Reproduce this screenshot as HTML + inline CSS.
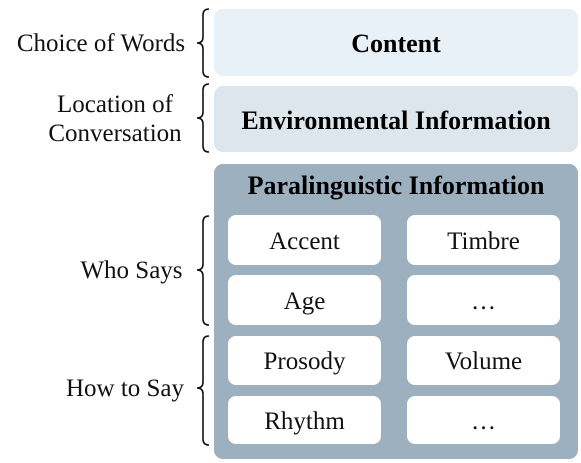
<!DOCTYPE html>
<html><head><style>
body{margin:0;width:581px;height:463px;background:#fff;font-family:"Liberation Serif",serif;position:relative;overflow:hidden}
.b{position:absolute;border-radius:9px}
.t{position:absolute;display:flex;align-items:center;justify-content:center;text-align:center}
.w{position:absolute;background:#fff;border-radius:8px;display:flex;align-items:center;justify-content:center;font-size:25px;color:#111;width:153px;padding-top:3px;box-sizing:border-box}
.l{position:absolute;font-size:25px;color:#111;text-align:center;line-height:29px;white-space:nowrap}
</style></head><body>
<div class="b t" style="left:214px;top:9px;width:364px;height:67px;background:#e8f0f8;font-weight:bold;font-size:26px;padding-top:3px;box-sizing:border-box">Content</div>
<div class="b t" style="left:214px;top:86px;width:364px;height:66px;background:#dee6ed;font-weight:bold;font-size:26px;padding-top:4px;box-sizing:border-box">Environmental Information</div>
<div class="b" style="left:214px;top:164px;width:364px;height:295px;background:#9db0bf"></div>
<div class="t" style="left:214px;top:170px;width:364px;height:32px;font-weight:bold;font-size:26px">Paralinguistic Information</div>
<div class="w" style="left:228px;top:215px;height:50px">Accent</div>
<div class="w" style="left:407px;top:215px;height:50px">Timbre</div>
<div class="w" style="left:228px;top:275px;height:50px">Age</div>
<div class="w" style="left:407px;top:275px;height:50px">…</div>
<div class="w" style="left:228px;top:336px;height:49px">Prosody</div>
<div class="w" style="left:407px;top:336px;height:49px">Volume</div>
<div class="w" style="left:228px;top:396px;height:48px">Rhythm</div>
<div class="w" style="left:407px;top:396px;height:48px">…</div>
<div class="l" style="left:0;width:202px;top:29px">Choice of Words</div>
<div class="l" style="left:0;width:230px;top:90px">Location of<br>Conversation</div>
<div class="l" style="left:0;width:263px;top:256px">Who Says</div>
<div class="l" style="left:0;width:250px;top:374px">How to Say</div>
<svg style="position:absolute;left:0;top:0" width="581" height="463" fill="none" stroke="#111" stroke-width="1.6">
<path d="M209,9 Q203,9 203,15 L203,37 Q203,43 197,43 Q203,43 203,49 L203,71 Q203,77 209,77"/>
<path d="M209,84 Q203,84 203,90 L203,112 Q203,118 197,118 Q203,118 203,124 L203,146 Q203,152 209,152"/>
<path d="M209,216 Q203,216 203,222 L203,264 Q203,270 197,270 Q203,270 203,276 L203,319 Q203,325 209,325"/>
<path d="M209,336 Q203,336 203,342 L203,382 Q203,388 197,388 Q203,388 203,394 L203,439 Q203,445 209,445"/>
</svg>
</body></html>
